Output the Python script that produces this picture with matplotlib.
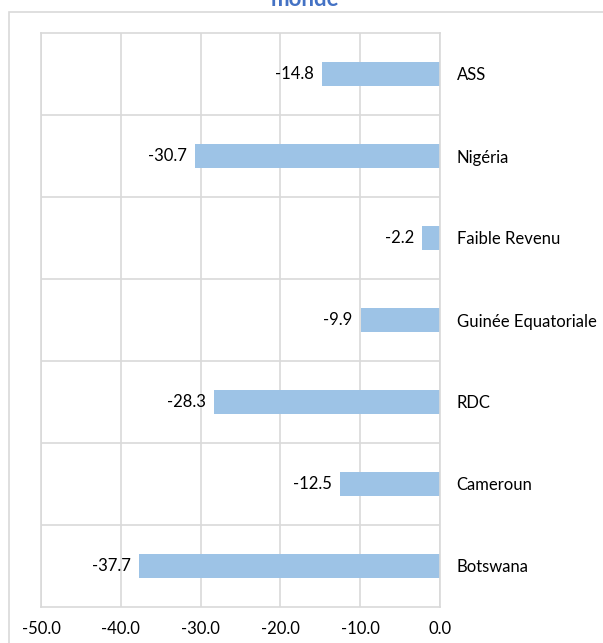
import matplotlib.pyplot as plt
from matplotlib.patches import Rectangle

# variation par pays (valeurs affichées sur les barres)
pays = ['ASS', 'Nigéria', 'Faible Revenu', 'Guinée Equatoriale', 'RDC', 'Cameroun', 'Botswana']
variation = [-14.8, -30.7, -2.2, -9.9, -28.3, -12.5, -37.7]
xticks = [-50, -40, -30, -20, -10, 0]

grid_col = '#D9D9D9'
bar_col = '#9DC3E6'
fs = 12
plt.rcParams['font.family'] = ['Lato', 'DejaVu Sans']

fig = plt.figure(figsize=(6.03, 6.43), dpi=100)

# cadre du graphique (coupé à droite et en bas)
fig.patches.append(Rectangle((9 / 603, -0.1), 2, 1 - 12 / 643 + 0.1, transform=fig.transFigure,
                             fill=False, edgecolor=grid_col, linewidth=1.2))

fig.text(305 / 603, 1 - 5.5 / 643, 'monde', ha='center', va='baseline',
         color='#4472C4', fontweight='bold', fontsize=16)

ax = fig.add_axes([41 / 603, 36 / 643, 399 / 603, 574 / 643])

ypos = list(range(len(pays)))[::-1]
bars = ax.barh(ypos, variation, height=0.285, color=bar_col)
ax.bar_label(bars, fmt='%.1f', padding=6, fontsize=fs)

ax.set_xlim(-50, 0)
ax.set_ylim(-0.5, len(pays) - 0.5)
ax.set_xticks(xticks)
ax.set_xticklabels(['%.1f' % v for v in xticks], fontsize=fs)
ax.set_yticks(ypos)
ax.set_yticklabels(pays, fontsize=fs)
ax.yaxis.tick_right()
ax.set_yticks([i + 0.5 for i in range(len(pays) - 1)], minor=True)
ax.tick_params(axis='both', which='both', length=0)
ax.tick_params(axis='x', pad=10)
ax.tick_params(axis='y', pad=12)

ax.grid(axis='x', color=grid_col, linewidth=1.2)
ax.grid(axis='y', which='minor', color=grid_col, linewidth=1.2)
ax.set_axisbelow(True)
for s in ax.spines.values():
    s.set_color(grid_col)
    s.set_linewidth(1.2)

fig.savefig('out.png', dpi=100)
